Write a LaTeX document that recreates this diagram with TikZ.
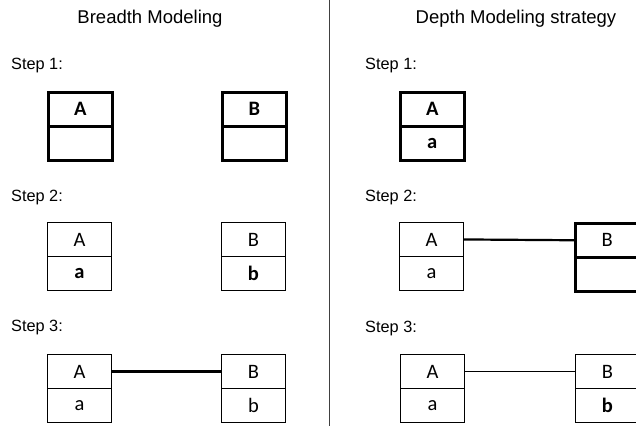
\documentclass[tikz,border=0pt]{standalone}
\usepackage{fontspec}
\setmainfont{Liberation Sans}
\newfontfamily\boxfont{Carlito}
\begin{document}
\begin{tikzpicture}[x=1pt,y=-1pt,
  title/.style={inner sep=0pt,font=\fontsize{18.5}{22}\selectfont},
  steplabel/.style={inner sep=0pt,anchor=west,font=\fontsize{16.3}{19}\selectfont},
  cell/.style={draw,line width=0.9pt,minimum width=64pt,minimum height=34pt,
    inner sep=0pt,anchor=north west,font=\boxfont\fontsize{20.5}{24}\selectfont},
  boldcell/.style={cell,line width=2.5pt},
  link/.style={line width=0.9pt},
  boldlink/.style={line width=2.2pt}]
\useasboundingbox (0,0) rectangle (636,426);
\clip (0,0) rectangle (636,426);

% column titles and separator
\node[title] (t1) at (150,19) {Breadth Modeling};
\node[title] (t2) at (516,19) {Depth Modeling strategy};
\draw[line width=1pt,black!75] (329,0) -- (329,426);

% ---- breadth modeling ----
\node[steplabel] (ls1) at (11,65) {Step 1:};
\node[boldcell] (L1A) at (47,91) {\bfseries A};
\node[boldcell] (L1a) at (47,125) {};
\node[boldcell] (L1B) at (221,91) {\bfseries B};
\node[boldcell] (L1b) at (221,125) {};

\node[steplabel] (ls2) at (11,197) {Step 2:};
\node[cell] (L2A) at (47,222) {A};
\node[cell] (L2a) at (47,256) {\bfseries a};
\node[cell] (L2B) at (221,222) {B};
\node[cell] (L2b) at (221,256) {\bfseries b};

\node[steplabel] (ls3) at (11,327) {Step 3:};
\node[cell] (L3A) at (47,354) {A};
\node[cell] (L3a) at (47,388) {a};
\node[cell] (L3B) at (221,354) {B};
\node[cell] (L3b) at (221,388) {b};
\draw[boldlink] (L3A.east) -- (L3B.west);

% ---- depth modeling ----
\node[steplabel] (rs1) at (365,65) {Step 1:};
\node[boldcell] (R1A) at (399,91) {\bfseries A};
\node[boldcell] (R1a) at (399,125) {\bfseries a};

\node[steplabel] (rs2) at (365,197) {Step 2:};
\node[cell] (R2A) at (399,222) {A};
\node[cell] (R2a) at (399,256) {a};
\node[boldcell] (R2B) at (574,222) {B};
\node[boldcell] (R2b) at (574,256) {};
\draw[boldlink] (R2A.east) -- (R2B.west);

\node[steplabel] (rs3) at (365,328) {Step 3:};
\node[cell] (R3A) at (400,354) {A};
\node[cell] (R3a) at (400,388) {a};
\node[cell] (R3B) at (575,354) {B};
\node[cell] (R3b) at (575,388) {\bfseries b};
\draw[link] (R3A.east) -- (R3B.west);
\end{tikzpicture}
\end{document}
